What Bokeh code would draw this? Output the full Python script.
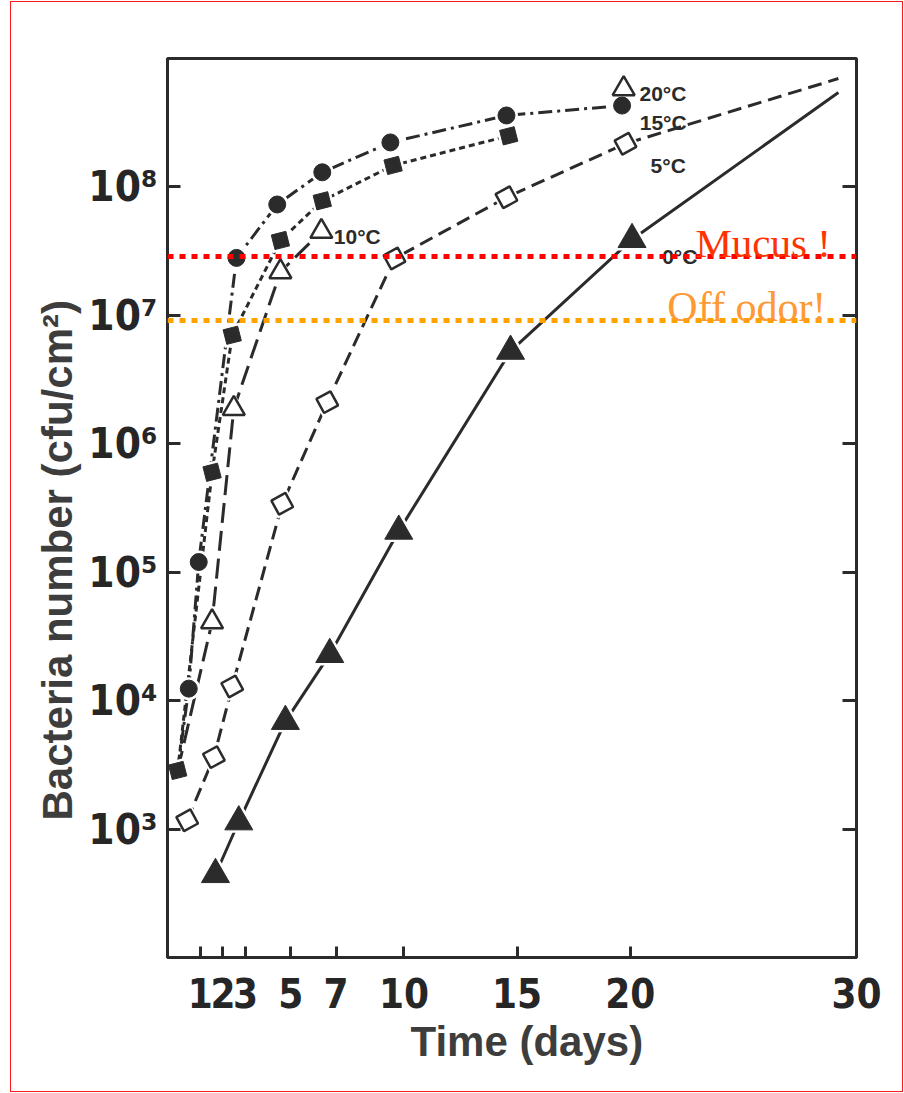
import numpy as np
from bokeh.plotting import figure
from bokeh.models import LogAxis, FixedTicker, Span, Label, Range1d, Title
from bokeh.core.properties import value
from bokeh.embed import file_html
from bokeh.resources import INLINE

# ---------------- data ----------------
x_ticks = [1, 2, 3, 5, 7, 10, 15, 20, 30]
y_ticks = [1e3, 1e4, 1e5, 1e6, 1e7, 1e8]
y_tick_labels = ["10³", "10⁴", "10⁵", "10⁶", "10⁷", "10⁸"]

# shared inoculum (day 0)
start_day = 0.0
start_count = 2.86e3

# 15 °C  (filled circles, dash-dot)
c15_days = [0.49, 0.93, 2.60, 4.40, 6.39, 9.40, 14.53, 19.64]
c15_counts = [1.24e4, 1.20e5, 2.8e7, 7.3e7, 1.30e8, 2.22e8, 3.6e8, 4.3e8]

# filled squares (short dashes)
sq_days = [0.0, 1.52, 2.41, 4.54, 6.39, 9.52, 14.63]
sq_counts = [2.86e3, 6.0e5, 7.0e6, 3.83e7, 7.8e7, 1.47e8, 2.5e8]

# 10 °C  (open triangles, long dashes)
t10_days = [1.52, 2.48, 4.54, 6.35]
t10_counts = [4.1e4, 1.88e6, 2.18e7, 4.5e7]

# 20 °C marker (open triangle)
t20_days = [19.71]
t20_counts = [5.8e8]

# 5 °C  (open squares, dashed)
c5_days = [0.42, 1.60, 2.41, 4.62, 6.61, 9.58, 14.53, 19.79]
c5_counts = [1.17e3, 3.63e3, 1.29e4, 3.41e5, 2.11e6, 2.77e7, 8.3e7, 2.17e8]
c5_end_day, c5_end_count = 29.2, 6.98e8

# 0 °C  (filled triangles, solid)
c0_days = [1.67, 2.70, 4.76, 6.72, 9.77, 14.71, 20.08]
c0_counts = [4.43e2, 1.14e3, 6.9e3, 2.29e4, 2.09e5, 5.26e6, 3.9e7]
c0_end_day, c0_end_count = 29.2, 5.43e8

# thresholds
mucus_level = 2.87e7
odor_level = 9.1e6

# curve labels
label_texts = ["20°C", "15°C", "5°C", "0°C", "10°C"]

# ---------------- figure ----------------
INK = "#2b2b2b"
p = figure(width=891, height=1089, x_range=Range1d(-0.45, 30), y_range=Range1d(1e2, 1e9),
           y_axis_type="log", output_backend="svg", toolbar_location=None,
           min_border_left=156, min_border_right=46, min_border_top=56, min_border_bottom=134)
p.styles = {"margin-left": "11px", "margin-top": "2px",
            "outline": "1.5px solid #ff1a1a"}
p.background_fill_color = "white"
p.border_fill_color = "white"
p.outline_line_color = INK
p.outline_line_width = 3
p.xgrid.visible = False
p.ygrid.visible = False

tick_font = "'Liberation Sans Narrow', 'DejaVu Sans Condensed', sans-serif"

xa = p.xaxis[0]
xa.ticker = FixedTicker(ticks=x_ticks)
xa.axis_line_width = 3
xa.axis_line_color = INK
xa.major_tick_in = 11
xa.major_tick_out = 0
xa.major_tick_line_width = 3
xa.major_tick_line_color = INK
xa.minor_tick_line_color = None
xa.major_label_text_font = tick_font
xa.major_label_text_font_style = "bold"
xa.major_label_text_font_size = "40px"
xa.major_label_text_color = "#262626"
xa.major_label_standoff = 20

ya = p.yaxis[0]
ya.ticker = FixedTicker(ticks=y_ticks)
ya.major_label_overrides = {v: t for v, t in zip(y_ticks, y_tick_labels)}
ya.axis_line_width = 3
ya.axis_line_color = INK
ya.major_tick_in = 13
ya.major_tick_out = 0
ya.major_tick_line_width = 3
ya.major_tick_line_color = INK
ya.minor_tick_line_color = None
ya.major_label_text_font = tick_font
ya.major_label_text_font_style = "bold"
ya.major_label_text_font_size = "42px"
ya.major_label_text_color = "#262626"
ya.major_label_standoff = 10

ra = LogAxis(ticker=FixedTicker(ticks=y_ticks),
             major_label_overrides={v: "" for v in y_ticks},
             axis_line_color=None, major_tick_in=14, major_tick_out=0,
             major_tick_line_width=3, major_tick_line_color=INK,
             minor_tick_line_color=None)
p.add_layout(ra, "right")

# axis titles
p.add_layout(Title(text="Bacteria number (cfu/cm²)", align="left", offset=137,
                   text_font="Liberation Sans", text_font_style="bold",
                   text_font_size="42px", text_color="#3d3d3d", standoff=10), "left")
p.add_layout(Title(text="Time (days)", align="left", offset=243,
                   text_font="Liberation Sans", text_font_style="bold",
                   text_font_size="42px", text_color="#3d3d3d", standoff=10), "below")

# ---------------- curves ----------------
p.line([start_day] + c15_days, [start_count] + c15_counts, line_color=INK, line_width=3,
       line_dash="14 5 3 5")
p.line(sq_days, sq_counts, line_color=INK, line_width=3, line_dash="6 4")
p.line([start_day] + t10_days, [start_count] + t10_counts, line_color=INK, line_width=3,
       line_dash="20 8")
p.line(c5_days + [c5_end_day], c5_counts + [c5_end_count], line_color=INK, line_width=3,
       line_dash="14 7")
p.line(c0_days + [c0_end_day], c0_counts + [c0_end_count], line_color=INK, line_width=3)

# white halos (gaps around markers)
halo = dict(fill_color="white", line_color=None)
p.scatter(c15_days, c15_counts, marker="circle", size=23, **halo)
p.scatter(sq_days, sq_counts, marker="square", size=21, angle=0.25, **halo)
p.scatter(t10_days + t20_days, t10_counts + t20_counts, marker="triangle", size=28, **halo)
p.scatter(c5_days, c5_counts, marker="square", size=22, angle=0.5, **halo)
p.scatter(c0_days, c0_counts, marker="triangle", size=38, **halo)

# markers
p.scatter(c15_days, c15_counts, marker="circle", size=17, fill_color=INK, line_color=INK)
p.scatter(sq_days, sq_counts, marker="square", size=15, angle=0.25, fill_color=INK, line_color=INK)
p.scatter(t10_days + t20_days, t10_counts + t20_counts, marker="triangle", size=22,
          fill_color="white", line_color=INK, line_width=2.5)
p.scatter(c5_days, c5_counts, marker="square", size=16, angle=0.5,
          fill_color="white", line_color=INK, line_width=2.5)
p.scatter(c0_days, c0_counts, marker="triangle", size=28, fill_color=INK, line_color=INK)

# curve labels (left edge / baseline positions)
p.text(x=[20.41, 20.42, 20.9, 21.41, 6.90], y=[5.33e8, 3.19e8, 1.47e8, 2.87e7, 4.13e7],
       text=label_texts, text_font=value("Liberation Sans"), text_font_size=value("21px"),
       text_font_style="bold", text_color=INK, text_align="left", text_baseline="alphabetic")

# thresholds
p.add_layout(Span(location=mucus_level, dimension="width", line_color="#ff0000",
                  line_width=5, line_dash="6 6"))
p.add_layout(Span(location=odor_level, dimension="width", line_color="#ffa200",
                  line_width=5, line_dash="6 6"))
p.add_layout(Label(x=22.88, y=3.63e7, text="Mucus !", text_font="Liberation Serif",
                   text_font_size="41px", text_color="#ff3300", text_baseline="alphabetic"))
p.add_layout(Label(x=21.64, y=1.16e7, text="Off odor!", text_font="Liberation Serif",
                   text_font_size="42px", text_color="#ff9933", text_baseline="alphabetic"))

open("out.html", "w").write(file_html(p, INLINE))
